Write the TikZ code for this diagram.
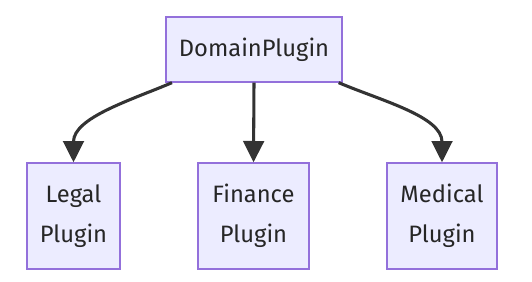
\documentclass[tikz,border=0pt]{standalone}
\usepackage{fontspec}
\setmainfont{Fira Sans}
\usetikzlibrary{arrows.meta}
\definecolor{boxfill}{HTML}{ECECFF}
\definecolor{boxline}{HTML}{9370DB}
\definecolor{edgecol}{HTML}{333333}
\begin{document}
\begin{tikzpicture}[x=0.75pt,y=-0.75pt,
  plugbox/.style={draw=boxline,fill=boxfill,line width=1pt,align=center,
    inner sep=0pt,font=\fontsize{17.8}{30}\selectfont,text=black!85},
  edge/.style={draw=edgecol,line width=2.3pt,-{Triangle[length=16pt,width=15.5pt]}}]
  \useasboundingbox (0,0) rectangle (532,282);
  \node[plugbox,minimum width=132pt,minimum height=48.75pt] (dom) at (254,49.5) {DomainPlugin};
  \node[plugbox,minimum width=69.75pt,minimum height=79.5pt] (legal) at (73.5,216) {Legal\\Plugin};
  \node[plugbox,minimum width=83.25pt,minimum height=79.5pt] (finance) at (253.5,216) {Finance\\Plugin};
  \node[plugbox,minimum width=82.5pt,minimum height=79.5pt] (medical) at (442,216) {Medical\\Plugin};
  \draw[edge] ([xshift=5pt]dom.south west) to[out=-157,in=90,looseness=0.9] (legal.north);
  \draw[edge] (dom.south) -- (finance.north);
  \draw[edge] ([xshift=-3pt]dom.south east) to[out=-23,in=90,looseness=0.9] (medical.north);
\end{tikzpicture}
\end{document}
